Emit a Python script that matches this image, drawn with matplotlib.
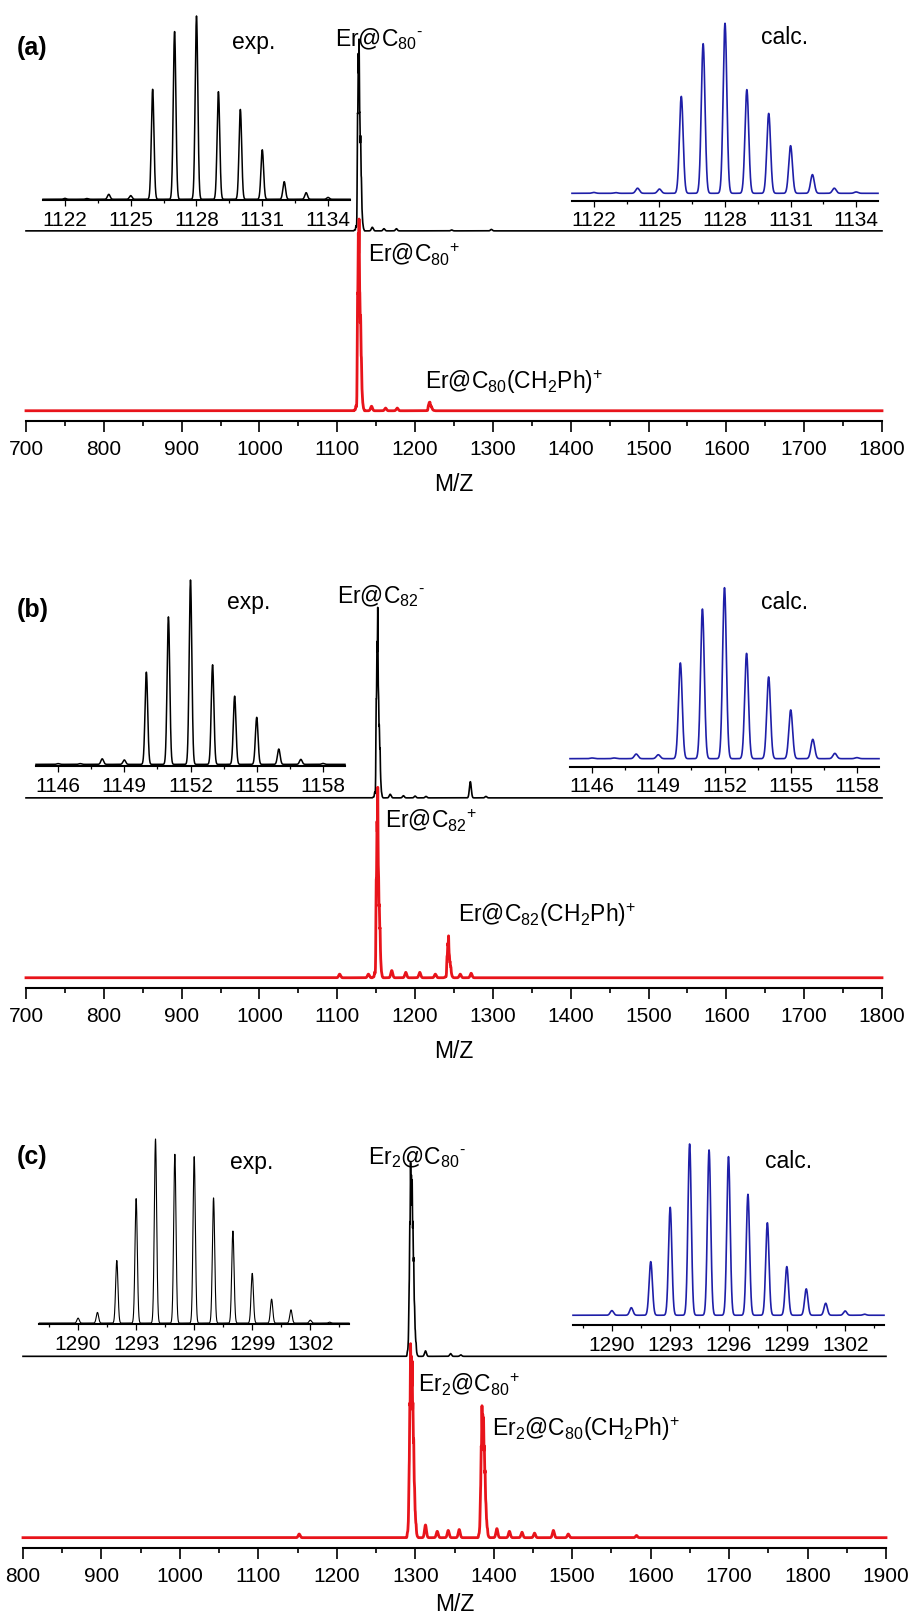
import numpy as np
import matplotlib
matplotlib.use('Agg')
import matplotlib.pyplot as plt
from matplotlib.ticker import MultipleLocator

plt.rcParams['font.family'] = ['Liberation Sans', 'DejaVu Sans']
plt.rcParams['mathtext.fontset'] = 'custom'
plt.rcParams['mathtext.rm'] = 'Liberation Sans'
plt.rcParams['mathtext.it'] = 'Liberation Sans:italic'
plt.rcParams['mathtext.bf'] = 'Liberation Sans:bold'
plt.rcParams['mathtext.default'] = 'regular'

W, H = 908, 1618
RED = '#e8141b'
BLUE = '#1f1fa8'

# ---- data ----
# (a) Er@C80
iso_a_mz = [1122, 1123, 1124, 1125, 1126, 1127, 1128, 1129, 1130, 1131, 1132, 1133, 1134]
exp_a = [0.005, 0.004, 0.027, 0.02, 0.60, 0.915, 1.0, 0.587, 0.49, 0.27, 0.096, 0.036, 0.01]
calc_a = [0.005, 0.004, 0.03, 0.025, 0.57, 0.88, 1.0, 0.61, 0.47, 0.28, 0.11, 0.03, 0.008]
neg_a_mz = [1145, 1160, 1176, 1247, 1298]
neg_a_h = [0.02, 0.012, 0.012, 0.005, 0.008]
pos_a_mz = [1144, 1162, 1177]
pos_a_h = [0.025, 0.015, 0.015]
adduct_a = 0.045

# (b) Er@C82
iso_b_mz = [1146, 1147, 1148, 1149, 1150, 1151, 1152, 1153, 1154, 1155, 1156, 1157, 1158]
exp_b = [0.004, 0.004, 0.03, 0.024, 0.50, 0.80, 1.0, 0.54, 0.37, 0.255, 0.083, 0.027, 0.005]
calc_b = [0.004, 0.004, 0.027, 0.023, 0.56, 0.875, 1.0, 0.616, 0.478, 0.285, 0.113, 0.031, 0.006]
neg_b_mz = [1168, 1185, 1200, 1214, 1271, 1291]
neg_b_h = [0.02, 0.012, 0.01, 0.008, 0.09, 0.008]
pos_b_mz = [1103, 1140, 1170, 1188, 1206, 1226, 1258, 1272]
pos_b_h = [0.02, 0.02, 0.04, 0.03, 0.03, 0.02, 0.02, 0.025]
adduct_b = 0.22

# (c) Er2@C80
iso_c_mz = [1290, 1291, 1292, 1293, 1294, 1295, 1296, 1297, 1298, 1299, 1300, 1301, 1302, 1303]
exp_c = [0.027, 0.058, 0.34, 0.676, 1.0, 0.917, 0.904, 0.68, 0.50, 0.27, 0.13, 0.072, 0.016, 0.005]
calc_c = [0.027, 0.044, 0.313, 0.63, 1.0, 0.965, 0.926, 0.706, 0.54, 0.284, 0.154, 0.07, 0.025, 0.006]
neg_c_mz = [1313, 1345, 1358]
neg_c_h = [0.03, 0.015, 0.008]
pos_c_mz = [1152, 1313, 1328, 1342, 1356, 1404, 1420, 1436, 1452, 1476, 1495, 1582]
pos_c_h = [0.02, 0.07, 0.035, 0.04, 0.045, 0.05, 0.035, 0.03, 0.025, 0.04, 0.02, 0.012]
adduct_c = 0.68

CH2PH = 91  # mass shift of the benzyl adduct


def spectrum(x, mz, h, sigma):
    mz = np.asarray(mz, float)[:, None]
    h = np.asarray(h, float)[:, None]
    return (h * np.exp(-0.5 * ((x[None, :] - mz) / sigma) ** 2)).sum(axis=0)


def box(x0, ytop, x1, ybot):
    return [x0 / W, 1 - ybot / H, (x1 - x0) / W, (ybot - ytop) / H]


def T(x, y, s, **kw):
    fig.text(x / W, 1 - y / H, s, **kw)


def style(ax, major, minor, fs, maj_len, min_len, spine_w, tick_w, pad):
    for s in ['left', 'right', 'top']:
        ax.spines[s].set_visible(False)
    ax.spines['bottom'].set_linewidth(spine_w)
    ax.yaxis.set_visible(False)
    ax.patch.set_visible(False)
    ax.xaxis.set_major_locator(MultipleLocator(major))
    ax.xaxis.set_minor_locator(MultipleLocator(minor))
    ax.tick_params(axis='x', which='major', direction='out', length=maj_len,
                   width=tick_w, labelsize=fs, pad=pad)
    ax.tick_params(axis='x', which='minor', direction='out', length=min_len, width=tick_w)


def panel(main_box, xlim, iso_mz, exp_i, calc_i, neg_mz, neg_h, pos_mz, pos_h, adduct,
          exp_box, exp_ylim0, calc_box, calc_ylim0, ixlim, exp_lw, xlab_pad):
    ax = fig.add_axes(box(*main_box))
    x = np.arange(xlim[0], xlim[1] + 0.001, 0.05)
    cluster = spectrum(x, iso_mz, exp_i, 0.4)
    shifted = spectrum(x, np.asarray(iso_mz) + CH2PH, exp_i, 0.4)
    neg = 1.0 + cluster + spectrum(x, neg_mz, neg_h, 1.2)
    pos = cluster + adduct * shifted + spectrum(x, pos_mz, pos_h, 1.2)
    ax.plot(x, neg, color='black', lw=1.2, clip_on=False)
    ax.plot(x, pos, color=RED, lw=2.0, clip_on=False)
    ax.set_xlim(*xlim)
    ax.set_ylim(-0.057, 2.0)
    style(ax, 100, 50, 15, 7.7, 3.8, 1.5, 1.2, 6.0)
    ax.set_xlabel('M/Z', fontsize=16.5, labelpad=xlab_pad)

    xi = np.arange(ixlim[0], ixlim[1] + 0.0001, 0.005)
    ae = fig.add_axes(box(*exp_box))
    ae.plot(xi, spectrum(xi, iso_mz, exp_i, 0.06), color='black', lw=exp_lw, clip_on=False)
    ae.set_xlim(*ixlim)
    ae.set_ylim(exp_ylim0, 1.0)
    style(ae, 3, 1.5, 15, 4.2, 2.4, 1.5, 0.9, 3.5)

    ac = fig.add_axes(box(*calc_box))
    ac.plot(xi, spectrum(xi, iso_mz, calc_i, 0.085), color=BLUE, lw=1.2, clip_on=False)
    ac.set_xlim(*ixlim)
    ac.set_ylim(calc_ylim0, 1.0)
    style(ac, 3, 1.5, 15, 4.2, 2.4, 1.5, 0.9, 3.5)


fig = plt.figure(figsize=(W / 100, H / 100), dpi=100)

panel((26, 51, 882, 421), (700, 1800), iso_a_mz, exp_a, calc_a,
      neg_a_mz, neg_a_h, pos_a_mz, pos_a_h, adduct_a,
      (43, 16, 350, 200), -0.004, (572, 23.3, 878, 200.7), -0.0435, (1121, 1135), 1.1, 10)
panel((26, 618, 882, 988), (700, 1800), iso_b_mz, exp_b, calc_b,
      neg_b_mz, neg_b_h, pos_b_mz, pos_b_h, adduct_b,
      (36, 580, 345, 766), -0.009, (570, 587.7, 879, 766.7), -0.047, (1145, 1159), 1.1, 10)
panel((23, 1175, 886, 1548), (800, 1900), iso_c_mz, exp_c, calc_c,
      neg_c_mz, neg_c_h, pos_c_mz, pos_c_h, adduct_c,
      (39.4, 1139, 349, 1324), -0.005, (573, 1144, 884, 1325), -0.057, (1288, 1304), 0.8, 5)

# panel letters and inset captions
lab = dict(fontsize=18, fontweight='bold', ha='left', va='center')
T(17, 48, '(a)', **lab)
T(17, 610, '(b)', **lab)
T(17, 1157, '(c)', **lab)
cap = dict(fontsize=16.5, ha='left', va='center')
T(232, 42, 'exp.', **cap)
T(761, 38, 'calc.', **cap)
T(227, 603, 'exp.', **cap)
T(761, 603, 'calc.', **cap)
T(230, 1162, 'exp.', **cap)
T(765, 1162, 'calc.', **cap)

# ion labels
ion = dict(fontsize=16.5, ha='left', va='baseline')
T(335, 46, r'Er@C$_{80}$$^{\text{-}}$', **ion)
T(368, 261.7, r'Er@C$_{80}$$^{+}$', **ion)
T(425, 389.3, r'Er@C$_{80}$(CH$_2$Ph)$^{+}$', **ion)
T(337, 603, r'Er@C$_{82}$$^{\text{-}}$', **ion)
T(385, 828, r'Er@C$_{82}$$^{+}$', **ion)
T(458, 922, r'Er@C$_{82}$(CH$_2$Ph)$^{+}$', **ion)
T(368, 1164, r'Er$_2$@C$_{80}$$^{\text{-}}$', **ion)
T(418, 1391.7, r'Er$_2$@C$_{80}$$^{+}$', **ion)
T(492, 1436, r'Er$_2$@C$_{80}$(CH$_2$Ph)$^{+}$', **ion)

fig.savefig('out.png', dpi=100)
